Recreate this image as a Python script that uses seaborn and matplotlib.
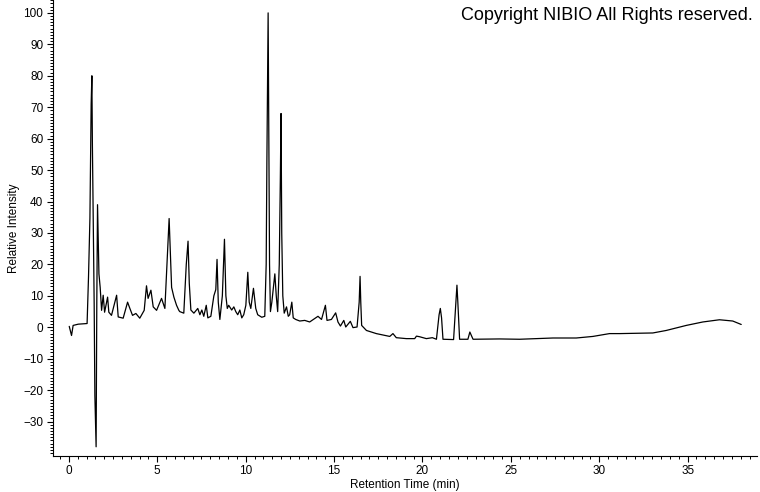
import pandas as pd
import seaborn as sns
import matplotlib.pyplot as plt
from matplotlib.ticker import MultipleLocator

# chromatogram trace
retention_time = [
    0.02, 0.15, 0.24, 0.53, 1.03, 1.11, 1.19, 1.26, 1.30, 1.33,
    1.43, 1.47, 1.54, 1.58, 1.62, 1.70, 1.77, 1.85, 1.94, 2.02,
    2.19, 2.26, 2.41, 2.70, 2.79, 3.07, 3.32, 3.45, 3.60, 3.79,
    4.01, 4.26, 4.39, 4.48, 4.64, 4.77, 4.96, 5.24, 5.43, 5.67,
    5.81, 5.94, 6.09, 6.22, 6.27, 6.50, 6.64, 6.74, 6.81, 6.90,
    7.07, 7.29, 7.41, 7.52, 7.63, 7.77, 7.86, 8.03, 8.20, 8.31,
    8.38, 8.45, 8.54, 8.68, 8.80, 8.88, 8.96, 9.04, 9.21, 9.33,
    9.44, 9.55, 9.67, 9.78, 9.89, 10.01, 10.12, 10.20, 10.29, 10.44,
    10.57, 10.68, 10.91, 11.08, 11.16, 11.20, 11.24, 11.27, 11.31, 11.35,
    11.40, 11.48, 11.59, 11.65, 11.73, 11.81, 11.90, 11.96, 12.00, 12.04,
    12.10, 12.18, 12.31, 12.41, 12.49, 12.61, 12.69, 12.83, 13.06, 13.34,
    13.62, 14.09, 14.29, 14.51, 14.60, 14.85, 14.94, 15.09, 15.22, 15.36,
    15.55, 15.66, 15.92, 16.07, 16.30, 16.42, 16.47, 16.51, 16.56, 16.83,
    17.39, 18.15, 18.33, 18.52, 19.09, 19.56, 19.66, 19.84, 20.22, 20.56,
    20.79, 20.94, 21.01, 21.08, 21.16, 21.76, 21.89, 21.95, 22.00, 22.10,
    22.57, 22.68, 22.86, 24.36, 25.49, 27.38, 28.70, 29.64, 30.58, 31.15,
    33.03, 33.79, 34.92, 35.86, 36.80, 37.55, 38.03,
]
relative_intensity = [
    0.3, -2.6, 0.6, 1.0, 1.2, 16, 34.7, 71, 80, 58,
    7.6, -21.7, -38, 8.6, 39, 17, 12.7, 5.4, 10.2, 4.8,
    9.6, 4.8, 3.8, 10.2, 3.3, 2.9, 8, 6, 3.8, 4.4,
    2.9, 5.4, 13.2, 9.2, 11.8, 6.5, 5.4, 9.2, 6, 34.6,
    12.7, 9.6, 7, 5.4, 5, 4.5, 20, 27.4, 14, 5.5,
    4.5, 6, 4, 5.5, 3.5, 7, 3, 3.5, 10, 12,
    21.6, 8, 2.5, 10, 28, 10, 6, 7, 5.5, 6.5,
    5, 4, 5.5, 3, 4, 7, 17.5, 8, 6, 12.4,
    6, 4, 3.2, 3.5, 20, 53, 79, 100, 60, 20,
    5, 8, 14, 17, 10, 5, 20, 47, 68, 30,
    10, 4.5, 6.5, 3.5, 4, 8, 3, 2.5, 2, 2.2,
    1.7, 3.5, 2.5, 7, 2.2, 2.5, 3.3, 4.6, 1.7, 0.4,
    2.2, 0.1, 1.9, -0.1, 0.1, 8, 16.2, 8, 0.6, -1,
    -2, -2.9, -2, -3.3, -3.6, -3.6, -2.8, -3, -3.6, -3.3,
    -3.8, 4, 6, 3, -3.8, -3.9, 8, 13.4, 8, -3.8,
    -3.8, -1.5, -3.8, -3.7, -3.8, -3.4, -3.4, -2.9, -2, -2,
    -1.8, -1, 0.6, 1.7, 2.4, 2, 0.9,
]

x_ticks = [0, 5, 10, 15, 20, 25, 30, 35]
y_ticks = [-30, -20, -10, 0, 10, 20, 30, 40, 50, 60, 70, 80, 90, 100]

df = pd.DataFrame({"Retention Time (min)": retention_time,
                   "Relative Intensity": relative_intensity})

sns.set_style("ticks")
plt.rcParams["font.family"] = ["Liberation Sans", "DejaVu Sans"]
plt.rcParams["text.color"] = "black"
plt.rcParams["axes.labelcolor"] = "black"

fig = plt.figure(figsize=(7.6, 4.92), dpi=100)
ax = fig.add_axes([0.0697, 0.074, 0.927, 0.926])

sns.lineplot(data=df, x="Retention Time (min)", y="Relative Intensity",
             ax=ax, color="black", linewidth=0.9, estimator=None)

ax.set_xlim(-0.9, 38.95)
ax.set_ylim(-40.8, 104.1)
ax.set_xticks(x_ticks)
ax.set_yticks(y_ticks)
ax.xaxis.set_minor_locator(MultipleLocator(0.5))
ax.yaxis.set_minor_locator(MultipleLocator(1))
ax.tick_params(which="major", direction="out", length=4, width=0.8,
               labelsize=8.5, colors="black", pad=3)
ax.tick_params(which="minor", direction="out", length=2.5, width=0.7,
               colors="black")
ax.set_xlabel("Retention Time (min)", fontsize=8.5, labelpad=1)
ax.set_ylabel("Relative Intensity", fontsize=8.5, labelpad=2)
for s in ["left", "bottom"]:
    ax.spines[s].set_linewidth(0.8)
    ax.spines[s].set_color("black")
sns.despine(ax=ax)

fig.text(0.99, 0.985, "Copyright NIBIO All Rights reserved.",
         ha="right", va="top", fontsize=13, color="black")

fig.savefig("out.png", dpi=100)
plt.close(fig)
